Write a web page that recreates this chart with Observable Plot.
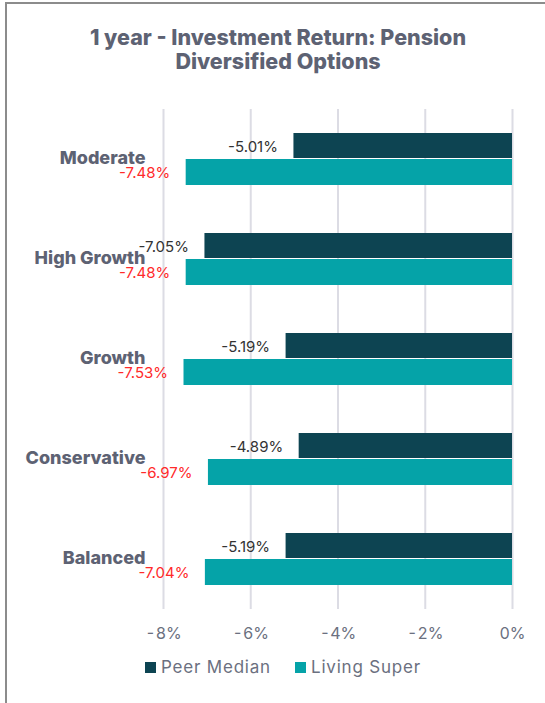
<!DOCTYPE html>
<html>
<head>
<meta charset="utf-8">
<script src="https://cdn.jsdelivr.net/npm/d3@7"></script>
<script src="https://cdn.jsdelivr.net/npm/@observablehq/plot@0.6"></script>
<style>
  html, body { margin: 0; padding: 0; background: #fff; }
  body { width: 545px; height: 703px; position: relative; overflow: hidden; font-family: Inter, "Open Sans", sans-serif; }
  #frame { position: absolute; left: 5px; top: 2px; width: 545px; height: 710px; border-top: 2px solid #8c8c8c; border-left: 2px solid #8c8c8c; }
  #title { position: absolute; left: 0; top: 25px; width: 556px; text-align: center; font-weight: 800; font-size: 21.5px; line-height: 24px; color: #5d6273; }
  #chart { position: absolute; left: 0; top: 80px; }
  #legend { position: absolute; left: 145px; top: 657px; display: flex; align-items: center; font-size: 17px; color: #6b7080; letter-spacing: 0.8px; }
  .sw { display: inline-block; width: 11px; height: 11px; margin-right: 5px; }
  .item { display: flex; align-items: center; margin-right: 24px; }
</style>
</head>
<body>
<div id="frame"></div>
<div id="title">1 year - Investment Return: Pension<br>Diversified Options</div>
<div id="chart"></div>
<div id="legend"></div>
<script>
const categories = ["Moderate", "High Growth", "Growth", "Conservative", "Balanced"];
const peerMedian = [-5.01, -7.05, -5.19, -4.89, -5.19];
const livingSuper = [-7.48, -7.48, -7.53, -6.97, -7.04];
const seriesNames = ["Peer Median", "Living Super"];
const seriesColors = ["#0d4452", "#05a3a8"];
const xTicks = [-8, -6, -4, -2, 0];

const peer = categories.map((c, i) => ({category: c, value: peerMedian[i]}));
const living = categories.map((c, i) => ({category: c, value: livingSuper[i]}));
const fmt = v => v.toFixed(2) + "%";

const chart = Plot.plot({
  width: 545,
  height: 569,
  marginTop: 29,
  marginBottom: 40,
  marginLeft: 163,
  marginRight: 33,
  style: {fontFamily: "Inter, 'Open Sans', sans-serif", background: "transparent"},
  x: {domain: [-8, 0], ticks: xTicks},
  y: {domain: categories, padding: 0},
  marks: [
    Plot.gridX(xTicks, {stroke: "#dcdce4", strokeOpacity: 1, strokeWidth: 2}),
    Plot.barX(peer, {x1: 0, x2: "value", y: "category", fill: seriesColors[0], insetTop: 24, insetBottom: 51}),
    Plot.barX(living, {x1: 0, x2: "value", y: "category", fill: seriesColors[1], insetTop: 50, insetBottom: 24}),
    Plot.axisX(xTicks, {tickSize: 0, tickPadding: 18, tickFormat: d => d + "%", fontSize: 16, fill: "#6b7080", label: null, style: {letterSpacing: "0.8px"}}),
    Plot.axisY({tickSize: 0, tickPadding: 18, fontSize: 18, fontWeight: 800, fill: "#5d6273", label: null, dy: -1}),
    Plot.text(peer, {x: "value", y: "category", text: d => fmt(d.value), textAnchor: "end", dx: -16, dy: -12, fontSize: 15, fill: "#333333"}),
    Plot.text(living, {x: "value", y: "category", text: d => fmt(d.value), textAnchor: "end", dx: -16, dy: 14, fontSize: 15, fill: "#ff2a2a"})
  ]
});
document.getElementById("chart").appendChild(chart);

const legend = document.getElementById("legend");
seriesNames.forEach((n, i) => {
  const it = document.createElement("span");
  it.className = "item";
  it.innerHTML = `<span class="sw" style="background:${seriesColors[i]}"></span>${n}`;
  legend.appendChild(it);
});
</script>
</body>
</html>
